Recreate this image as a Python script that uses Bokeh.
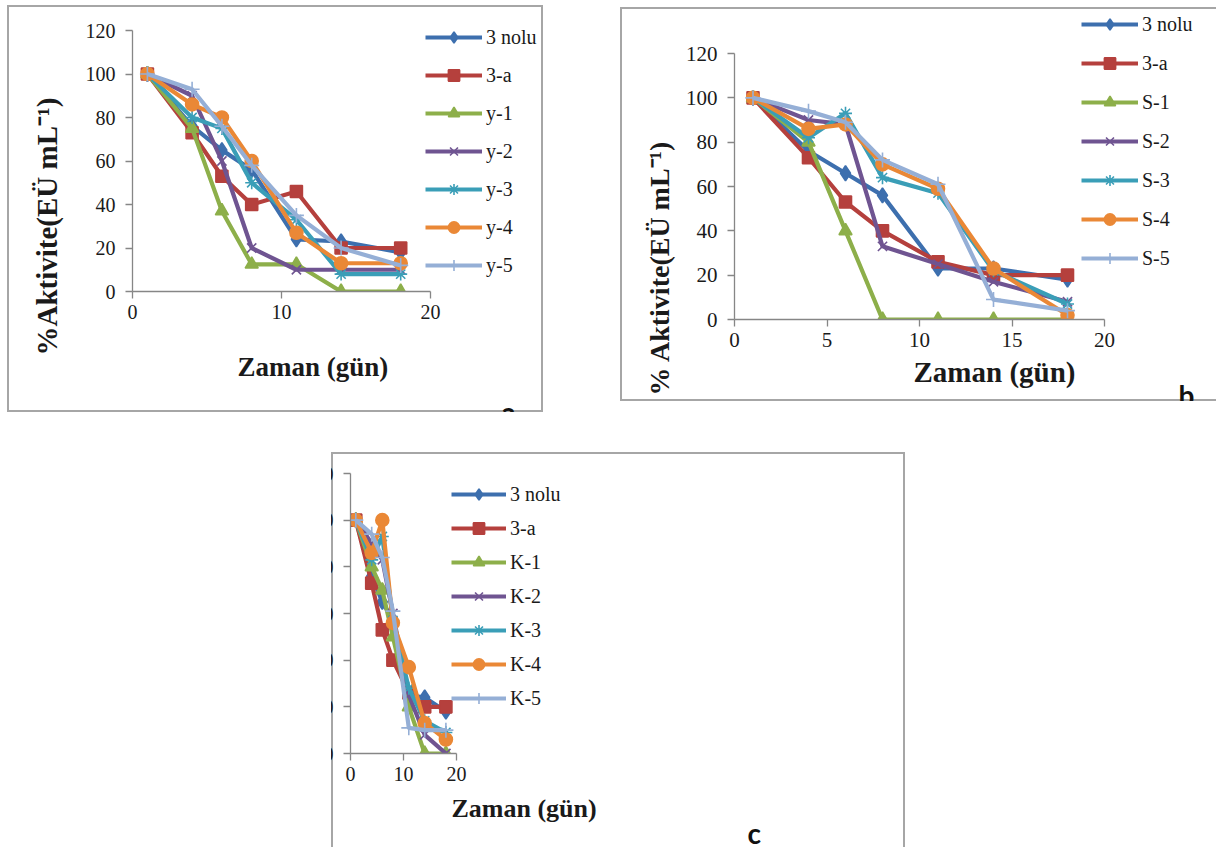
from bokeh.plotting import figure
from bokeh.models import Range1d, FixedTicker, Legend, LegendItem, Title, Spacer
from bokeh.layouts import column, row
from bokeh.embed import file_html
from bokeh.resources import INLINE

# ---------------- data ----------------
days = [1, 4, 6, 8, 11, 14, 18]

y_ticks = [0, 20, 40, 60, 80, 100, 120]
x_ticks_a = [0, 10, 20]
x_ticks_b = [0, 5, 10, 15, 20]
x_ticks_c = [0, 10, 20]

names_a = ["3 nolu", "3-a", "y-1", "y-2", "y-3", "y-4", "y-5"]
a_3nolu = [100, 76, 65, 56, 24, 23, 18]
a_3a = [100, 73, 53, 40, 46, 20, 20]
a_y1 = [100, 75, 37, 12.5, 12.5, 0, 0]
a_y2 = [100, 90, 60, 20, 10, 10, 10]
a_y3 = [100, 80, 75, 50, 33, 8, 8]
a_y4 = [100, 86, 80, 60, 27, 13, 13]
a_y5 = [100, 93, 76, 58, 35, 20, 12]

names_b = ["3 nolu", "3-a", "S-1", "S-2", "S-3", "S-4", "S-5"]
b_3nolu = [100, 76, 66, 56, 23, 23, 18]
b_3a = [100, 73, 53, 40, 26, 20, 20]
b_s1 = [100, 80, 40, 0, 0, 0, 0]
b_s2 = [100, 90, 88, 33, 25, 17, 8]
b_s3 = [100, 82, 93, 64, 57, 22, 7]
b_s4 = [100, 86, 88, 70, 59, 23, 2]
b_s5 = [100, 94, 89, 72, 61, 9, 4]

names_c = ["3 nolu", "3-a", "K-1", "K-2", "K-3", "K-4", "K-5"]
c_3nolu = [100, 76, 65, 57, 25, 24, 18]
c_3a = [100, 73, 53, 40, 26, 20, 20]
c_k1 = [100, 80, 70, 50, 20, 0, 0]
c_k2 = [100, 90, 83, 60, 25, 8, 0]
c_k3 = [100, 83, 93, 57, 28, 14, 9]
c_k4 = [100, 86, 100, 56, 37, 13, 6]
c_k5 = [100, 94, 84, 61, 11, 10, 10]

x_title = "Zaman (gün)"
y_title_a = "%Aktivite(EÜ mL⁻¹)"
y_title_b = "% Aktivite(EÜ mL⁻¹)"
y_title_c = "% Aktivite(EÜ mL⁻¹)"

# ---------------- styles ----------------
colors = ["#3D6FAE", "#B5403D", "#8DAF4A", "#6F5491", "#3A9EB7", "#EA8836", "#95AFD6"]
markers = ["diamond", "square", "triangle", "x", "asterisk", "circle", "cross"]
msizes = [15, 12, 13, 13, 13, 13, 15]
SERIF = "Liberation Serif"
AXIS_C = "#868686"
BORDER_C = "#a6a6a6"


def make_panel(names, series, x_ticks, g):
    p = figure(width=g["w"], height=g["h"], output_backend="svg", toolbar_location=None,
               x_range=Range1d(0, 20), y_range=Range1d(0, 120),
               min_border_left=g["bl"], min_border_right=g["w"] - g["bl"] - g["fw"],
               min_border_top=g["bt"], min_border_bottom=g["h"] - g["bt"] - g["fh"])
    p.border_fill_color = None
    p.background_fill_color = None
    p.outline_line_color = None
    p.grid.visible = False
    for ax, ticks in ((p.xaxis[0], x_ticks), (p.yaxis[0], y_ticks)):
        ax.ticker = FixedTicker(ticks=ticks)
        ax.axis_line_color = AXIS_C
        ax.axis_line_width = 1.3
        ax.major_tick_line_color = AXIS_C
        ax.major_tick_line_width = 1.3
        ax.major_tick_out = 7
        ax.major_tick_in = 0
        ax.minor_tick_out = 0
        ax.minor_tick_in = 0
        ax.major_label_text_font = SERIF
        ax.major_label_text_font_size = g["tfs"]
        ax.major_label_text_color = "#1a1a1a"
    p.xaxis[0].major_label_standoff = 6
    p.yaxis[0].major_label_standoff = 10

    items = []
    for i, (nm, ys) in enumerate(zip(names, series)):
        lr = p.line(days, ys, line_color=colors[i], line_width=4.2, line_join="round")
        sr = p.scatter(days, ys, marker=markers[i], size=msizes[i], fill_color=colors[i],
                       line_color=colors[i], line_width=1.6)
        items.append(LegendItem(label=nm, renderers=[lr, sr]))

    leg = Legend(items=items, location=(g["lx"], g["ly"]), orientation="vertical",
                 padding=0, margin=0, spacing=g["lsp"], glyph_width=g["gw"], glyph_height=28,
                 label_height=20, label_width=0, label_standoff=4, border_line_color=None,
                 background_fill_alpha=0, label_text_font=SERIF,
                 label_text_font_size="20px", label_text_color="#1a1a1a")
    p.add_layout(leg, "right")

    p.add_layout(Title(text=g["ytitle"], text_font=SERIF, text_font_style="bold",
                       text_font_size=g["yfs"], align="left", offset=g["yoff"],
                       standoff=g["ysd"], vertical_align="middle", text_color="#1a1a1a"), "left")
    p.add_layout(Title(text=x_title, text_font=SERIF, text_font_style="bold",
                       text_font_size=g["xfs"], align="left", offset=g["xoff"],
                       standoff=g["xsd"], vertical_align="middle", text_color="#1a1a1a"), "below")
    p.add_layout(Title(text=g["letter"], text_font="Lato", text_font_style="bold",
                       text_font_size="28px", align="left", offset=g["loff"],
                       standoff=g["lsd"], vertical_align="middle", text_color="#111111"), "below")
    p.styles = {"box-shadow": g["shadow"]}
    return p


ga = dict(w=536, h=407, bl=125, fw=298, bt=25, fh=261, lx=-5, ly=12, lsp=10, gw=57,
          tfs="20px", yfs="29px", xfs="27px",
          yoff=-64, ysd=38, xoff=105, xsd=58, loff=369, lsd=-154, letter="a",
          ytitle=y_title_a, shadow=f"inset 0 0 0 2px {BORDER_C}")
gb = dict(w=596, h=394, bl=114, fw=375, bt=46, fh=266, lx=-23, ly=47, lsp=11, gw=57,
          tfs="21px", yfs="28px", xfs="29px",
          yoff=-76, ysd=13, xoff=179, xsd=11, loff=444, lsd=-134, letter="b",
          ytitle=y_title_b,
          shadow=f"inset 2px 0 0 {BORDER_C}, inset 0 2px 0 {BORDER_C}, inset 0 -2px 0 {BORDER_C}")
gc = dict(w=574, h=395, bl=125, fw=322, bt=21, fh=280, lx=-5, ly=41, lsp=6, gw=55,
          tfs="20px", yfs="28px", xfs="26px",
          yoff=-38, ysd=14, xoff=101, xsd=18, loff=397, lsd=-52, letter="c",
          ytitle=y_title_c,
          shadow=f"inset 2px 0 0 {BORDER_C}, inset 0 2px 0 {BORDER_C}, inset -2px 0 0 {BORDER_C}")

fa = make_panel(names_a, [a_3nolu, a_3a, a_y1, a_y2, a_y3, a_y4, a_y5], x_ticks_a, ga)
fb = make_panel(names_b, [b_3nolu, b_3a, b_s1, b_s2, b_s3, b_s4, b_s5], x_ticks_b, gb)
fc = make_panel(names_c, [c_3nolu, c_3a, c_k1, c_k2, c_k3, c_k4, c_k5], x_ticks_c, gc)

layout = column(
    Spacer(width=10, height=5),
    row(Spacer(width=7, height=10), column(fa), Spacer(width=77, height=10),
        column(Spacer(width=10, height=2), fb)),
    Spacer(width=10, height=39),
    row(Spacer(width=331, height=10), column(Spacer(width=10, height=1), fc)),
)

open("out.html", "w").write(file_html(layout, INLINE))
